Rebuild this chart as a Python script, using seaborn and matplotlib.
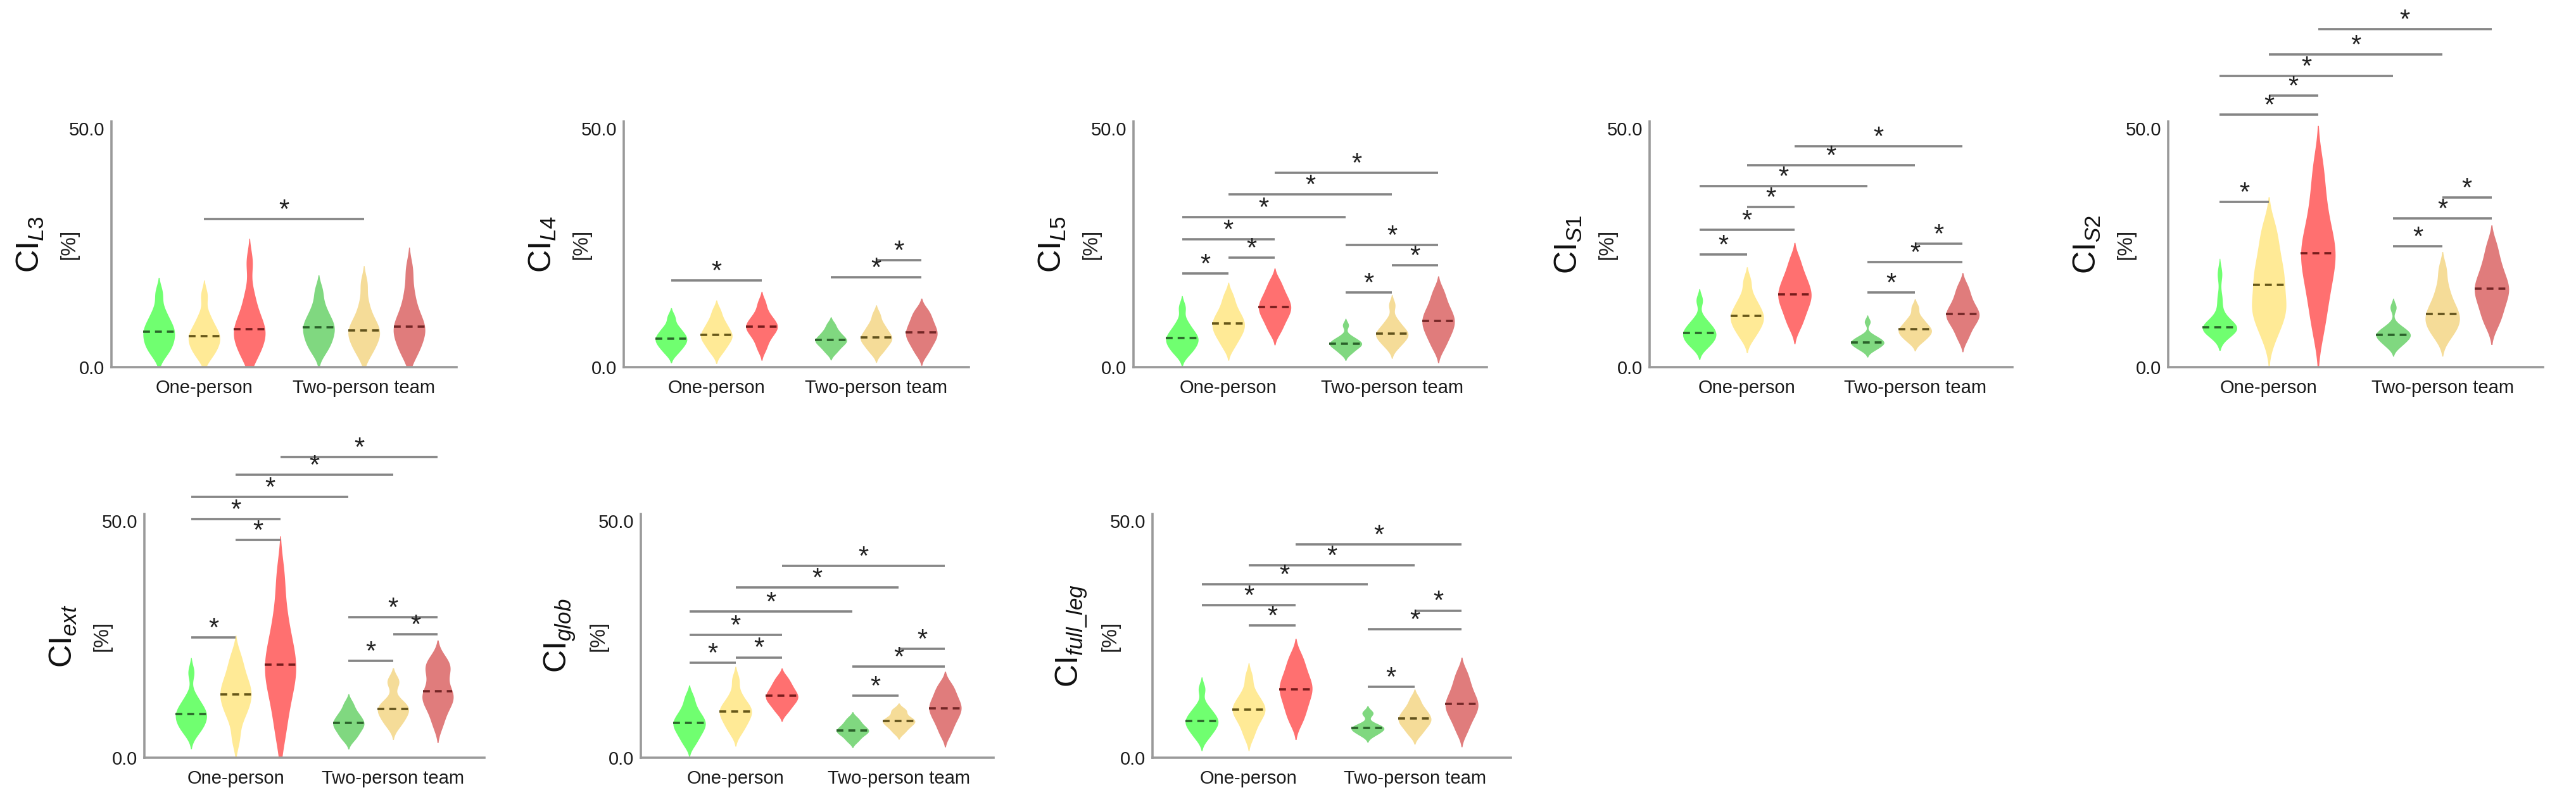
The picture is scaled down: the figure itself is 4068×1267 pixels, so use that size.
import matplotlib
matplotlib.use("Agg")
import matplotlib.pyplot as plt
import numpy as np
import pandas as pd
import seaborn as sns

groups = ["One-person", "Two-person team"]
levels = ["low", "mid", "high"]

# CI_L3
l3_one_low = [2.5, 3.8, 4.8, 5.6, 6.6, 7.4, 8.2, 9.0, 10.3, 12.0, 15.5]
l3_one_mid = [2.0, 3.2, 4.2, 5.0, 5.8, 6.5, 7.2, 8.0, 9.3, 11.0, 15.0]
l3_one_high = [2.0, 3.5, 5.0, 6.2, 7.2, 8.0, 9.0, 10.5, 12.5, 15.5, 22.0]
l3_two_low = [3.0, 4.5, 5.5, 6.5, 7.5, 8.3, 9.0, 10.0, 11.2, 13.0, 16.0]
l3_two_mid = [2.5, 4.0, 5.2, 6.2, 7.0, 7.7, 8.5, 9.6, 11.0, 13.5, 17.5]
l3_two_high = [2.5, 4.0, 5.5, 6.8, 7.8, 8.5, 9.5, 11.0, 13.0, 16.0, 20.5]
l3_sig = [(1, 4, 31.1)]

# CI_L4
l4_one_low = [2.8, 3.8, 4.5, 5.0, 5.6, 6.0, 6.5, 7.0, 7.8, 8.6, 10.5]
l4_one_mid = [3.0, 4.2, 5.0, 5.8, 6.3, 6.8, 7.4, 8.1, 9.0, 10.0, 11.8]
l4_one_high = [3.8, 5.5, 6.6, 7.4, 8.0, 8.5, 9.0, 9.6, 10.4, 11.5, 13.5]
l4_two_low = [3.0, 3.9, 4.5, 5.0, 5.4, 5.7, 6.0, 6.5, 7.1, 7.8, 9.0]
l4_two_mid = [3.0, 4.0, 4.8, 5.4, 5.9, 6.3, 6.8, 7.5, 8.3, 9.2, 11.0]
l4_two_high = [2.8, 4.2, 5.2, 6.0, 6.7, 7.3, 8.0, 8.8, 9.7, 10.8, 12.0]
l4_sig = [(0, 2, 18.2), (3, 5, 18.9), (4, 5, 22.4)]

# CI_L5
l5_one_low = [2.6, 3.6, 4.3, 5.0, 5.6, 6.1, 6.6, 7.3, 8.2, 9.5, 12.5]
l5_one_mid = [4.2, 5.8, 6.8, 7.6, 8.4, 9.1, 9.8, 10.6, 11.6, 13.0, 15.0]
l5_one_high = [7.4, 9.0, 10.2, 11.1, 11.9, 12.6, 13.3, 14.1, 15.1, 16.3, 18.0]
l5_two_low = [2.8, 3.5, 4.0, 4.4, 4.7, 4.9, 5.2, 5.5, 5.9, 6.5, 8.8]
l5_two_mid = [4.0, 5.0, 5.7, 6.2, 6.7, 7.1, 7.5, 8.1, 8.9, 10.0, 13.0]
l5_two_high = [4.0, 5.8, 7.0, 8.0, 8.9, 9.7, 10.5, 11.4, 12.5, 14.0, 16.0]
l5_sig = [(0, 1, 19.6), (1, 2, 23.0), (0, 2, 26.8), (0, 3, 31.4), (1, 4, 36.2),
          (2, 5, 40.7), (3, 4, 15.7), (4, 5, 21.4), (3, 5, 25.6)]

# CI_S1
s1_one_low = [4.0, 4.9, 5.6, 6.1, 6.7, 7.2, 7.7, 8.3, 9.0, 10.2, 14.0]
s1_one_mid = [6.0, 7.5, 8.5, 9.3, 10.1, 10.8, 11.5, 12.4, 13.5, 15.0, 18.0]
s1_one_high = [8.5, 10.5, 12.0, 13.3, 14.3, 15.2, 16.1, 17.2, 18.5, 20.0, 22.5]
s1_two_low = [3.5, 4.0, 4.4, 4.8, 5.0, 5.2, 5.5, 5.8, 6.2, 6.7, 9.5]
s1_two_mid = [5.2, 6.0, 6.6, 7.1, 7.5, 7.9, 8.3, 8.9, 9.6, 10.5, 12.5]
s1_two_high = [6.0, 7.8, 9.0, 9.9, 10.6, 11.2, 11.8, 12.7, 13.8, 15.2, 17.0]
s1_sig = [(0, 1, 23.6), (0, 2, 28.8), (1, 2, 33.6), (0, 3, 37.9), (1, 4, 42.3),
          (2, 5, 46.3), (3, 4, 15.6), (3, 5, 22.0), (4, 5, 25.9)]

# CI_S2
s2_one_low = [6.8, 7.4, 7.8, 8.0, 8.2, 8.4, 8.7, 9.2, 11.0, 14.4, 19.5]
s2_one_mid = [6.5, 9.5, 11.5, 12.8, 14.0, 17.2, 18.5, 20.5, 23.0, 26.0, 29.5]
s2_one_high = [8.0, 13.0, 16.5, 19.5, 22.0, 23.9, 25.5, 28.0, 31.5, 36.0, 42.0]
s2_two_low = [4.2, 5.0, 5.6, 6.0, 6.5, 6.8, 7.1, 7.5, 8.0, 8.8, 12.5]
s2_two_mid = [6.0, 7.6, 8.6, 9.4, 10.3, 11.2, 12.0, 13.2, 14.8, 17.0, 20.5]
s2_two_high = [9.0, 11.0, 12.8, 14.3, 15.5, 16.5, 17.5, 18.8, 20.5, 22.5, 25.5]
s2_sig = [(0, 1, 34.7), (0, 2, 53.0), (1, 2, 57.0), (0, 3, 61.0), (1, 4, 65.6),
          (2, 5, 70.9), (3, 4, 25.3), (3, 5, 31.2), (4, 5, 35.6)]

# CI_ext
ext_one_low = [5.0, 6.2, 7.0, 7.8, 8.5, 9.2, 9.8, 10.5, 11.5, 13.0, 18.0]
ext_one_mid = [4.0, 8.0, 9.8, 11.2, 12.4, 13.4, 14.4, 15.6, 17.0, 19.0, 21.5]
ext_one_high = [5.0, 10.0, 13.5, 16.0, 18.0, 19.6, 21.5, 24.0, 27.0, 31.5, 38.5]
ext_two_low = [3.8, 4.8, 5.6, 6.3, 6.8, 7.3, 7.8, 8.4, 9.1, 10.0, 11.5]
ext_two_mid = [6.5, 7.6, 8.4, 9.2, 9.8, 10.3, 10.8, 11.4, 12.2, 15.8, 16.3]
ext_two_high = [7.0, 9.5, 11.2, 12.2, 12.9, 14.1, 15.0, 17.5, 18.8, 19.6, 21.0]
ext_sig = [(0, 1, 25.4), (1, 2, 46.0), (0, 2, 50.4), (0, 3, 55.1), (1, 4, 59.8),
           (2, 5, 63.6), (3, 4, 20.4), (4, 5, 26.1), (3, 5, 29.7)]

# CI_glob
glob_one_low = [2.8, 4.2, 5.2, 6.0, 6.7, 7.3, 7.9, 8.6, 9.5, 10.8, 12.8]
glob_one_mid = [5.2, 6.6, 7.6, 8.4, 9.2, 9.8, 10.4, 11.0, 12.0, 13.5, 16.5]
glob_one_high = [9.6, 10.7, 11.5, 12.1, 12.6, 13.1, 13.6, 14.2, 15.0, 15.8, 17.0]
glob_two_low = [3.4, 4.2, 4.8, 5.2, 5.5, 5.8, 6.1, 6.5, 7.0, 7.6, 8.4]
glob_two_mid = [5.2, 6.0, 6.6, 7.0, 7.4, 7.7, 8.0, 8.3, 8.8, 9.8, 10.2]
glob_two_high = [5.0, 6.8, 8.0, 9.0, 9.8, 10.5, 11.2, 12.0, 13.0, 14.2, 15.5]
glob_sig = [(0, 1, 20.1), (1, 2, 21.2), (0, 2, 25.9), (0, 3, 30.9), (1, 4, 36.0),
            (2, 5, 40.5), (3, 4, 13.1), (3, 5, 19.2), (4, 5, 23.0)]

# CI_full_leg
leg_one_low = [4.0, 5.2, 6.0, 6.7, 7.3, 7.8, 8.3, 9.0, 9.8, 11.0, 14.5]
leg_one_mid = [4.5, 6.5, 7.8, 8.8, 9.6, 10.2, 10.8, 11.6, 12.6, 14.0, 17.0]
leg_one_high = [7.5, 9.5, 11.0, 12.4, 13.6, 14.5, 15.4, 16.5, 17.8, 19.5, 21.5]
leg_two_low = [4.6, 5.1, 5.5, 5.8, 6.1, 6.3, 6.5, 6.8, 7.2, 9.2, 9.6]
leg_two_mid = [4.8, 5.9, 6.7, 7.3, 7.8, 8.3, 8.8, 9.4, 10.1, 11.0, 12.5]
leg_two_high = [5.5, 7.5, 8.8, 9.8, 10.7, 11.4, 12.2, 13.2, 14.5, 16.0, 18.0]
leg_sig = [(1, 2, 28.0), (0, 2, 32.2), (0, 3, 36.6), (1, 4, 40.6), (2, 5, 45.1),
           (3, 4, 15.0), (3, 5, 27.2), (4, 5, 31.1)]

panels = [
    ("L3", [l3_one_low, l3_one_mid, l3_one_high], [l3_two_low, l3_two_mid, l3_two_high], l3_sig),
    ("L4", [l4_one_low, l4_one_mid, l4_one_high], [l4_two_low, l4_two_mid, l4_two_high], l4_sig),
    ("L5", [l5_one_low, l5_one_mid, l5_one_high], [l5_two_low, l5_two_mid, l5_two_high], l5_sig),
    ("S1", [s1_one_low, s1_one_mid, s1_one_high], [s1_two_low, s1_two_mid, s1_two_high], s1_sig),
    ("S2", [s2_one_low, s2_one_mid, s2_one_high], [s2_two_low, s2_two_mid, s2_two_high], s2_sig),
    ("ext", [ext_one_low, ext_one_mid, ext_one_high], [ext_two_low, ext_two_mid, ext_two_high], ext_sig),
    ("glob", [glob_one_low, glob_one_mid, glob_one_high], [glob_two_low, glob_two_mid, glob_two_high], glob_sig),
    ("full\\_leg", [leg_one_low, leg_one_mid, leg_one_high], [leg_two_low, leg_two_mid, leg_two_high], leg_sig),
]

one_colors = ["#70ff70", "#ffea96", "#ff7070"]
two_colors = ["#80d880", "#f5dc98", "#e07c7c"]
one_med = ["#2a662a", "#665718", "#771c1c"]
two_med = ["#2a612a", "#62531c", "#732626"]

# axes boxes in pixels: left, right, top, bottom
W, H = 4068, 1267
boxes = [(176, 721, 192, 580), (985, 1530, 192, 580), (1790, 2348, 192, 580),
         (2605, 3178, 192, 580), (3424, 4016, 192, 580),
         (228, 765, 812, 1197), (1012, 1569, 812, 1197), (1820, 2386, 812, 1197)]

WIDTH = 0.85

sns.set_style("white")
plt.rcParams["font.family"] = ["Liberation Sans", "DejaVu Sans"]
plt.rcParams["mathtext.fontset"] = "custom"
plt.rcParams["mathtext.rm"] = "Liberation Sans"
plt.rcParams["mathtext.it"] = "Liberation Sans:italic"

fig = plt.figure(figsize=(W / 100, H / 100), dpi=100)


def xpos(k):
    return k // 3 + (k % 3 - 1) * WIDTH / 3


for (name, one, two, sig), (l, r, t, b) in zip(panels, boxes):
    ax = fig.add_axes([l / W, 1 - b / H, (r - l) / W, (b - t) / H])
    rows = []
    for g, data in zip(groups, [one, two]):
        for lev, vals in zip(levels, data):
            for v in vals:
                rows.append((g, lev, v))
    df = pd.DataFrame(rows, columns=["group", "level", "value"])

    for g, pal, meds in zip(groups, [one_colors, two_colors], [one_med, two_med]):
        n0 = len(ax.lines)
        sns.violinplot(data=df[df["group"] == g], x="group", y="value", hue="level",
                       order=groups, hue_order=levels, palette=pal, saturation=1,
                       width=WIDTH, gap=0.3, density_norm="width", bw_adjust=0.7,
                       inner="quart", inner_kws=dict(linewidth=2.6), linewidth=0,
                       legend=False, ax=ax)
        new = list(ax.lines[n0:])
        for i, ln in enumerate(new):
            if i % 3 != 1:
                ln.remove()
            else:
                ln.set_color(meds[i // 3])
                ln.set_dashes((3.0, 2.2))

    # significance bars
    for i, j, y in sig:
        ax.plot([xpos(i), xpos(j)], [y, y], color="#858585", lw=2.6,
                solid_capstyle="butt", clip_on=False)
        ax.annotate("*", xy=((xpos(i) + xpos(j)) / 2, y), xytext=(0, -5),
                    textcoords="offset points", ha="center", va="bottom",
                    fontsize=30, color="#222222", annotation_clip=False)

    ax.set_xlim(-0.58, 1.58)
    ax.set_ylim(0, 51.5)
    ax.set_yticks([0, 50])
    ax.set_yticklabels(["0.0", "50.0"])
    ax.set_xticks([0, 1])
    ax.set_xticklabels(groups)
    ax.set_xlabel("")
    ax.set_ylabel("")
    ax.tick_params(axis="both", length=0, labelsize=21, labelcolor="#1a1a1a")
    ax.tick_params(axis="x", pad=14)
    ax.tick_params(axis="y", pad=8)
    sns.despine(ax=ax)
    for s in ["left", "bottom"]:
        ax.spines[s].set_color("#9a9a9a")
        ax.spines[s].set_linewidth(2.6)

    ax.annotate("CI$_{\\mathit{" + name + "}}$", xy=(0, 0.5), xycoords="axes fraction",
                xytext=(-92, 0), textcoords="offset points", rotation=90,
                ha="center", va="center", fontsize=36, color="#111111")
    ax.annotate("[%]", xy=(0, 0.5), xycoords="axes fraction",
                xytext=(-48, 0), textcoords="offset points", rotation=90,
                ha="center", va="center", fontsize=24, color="#222222")

fig.savefig("out.png", dpi=100, facecolor="white")
